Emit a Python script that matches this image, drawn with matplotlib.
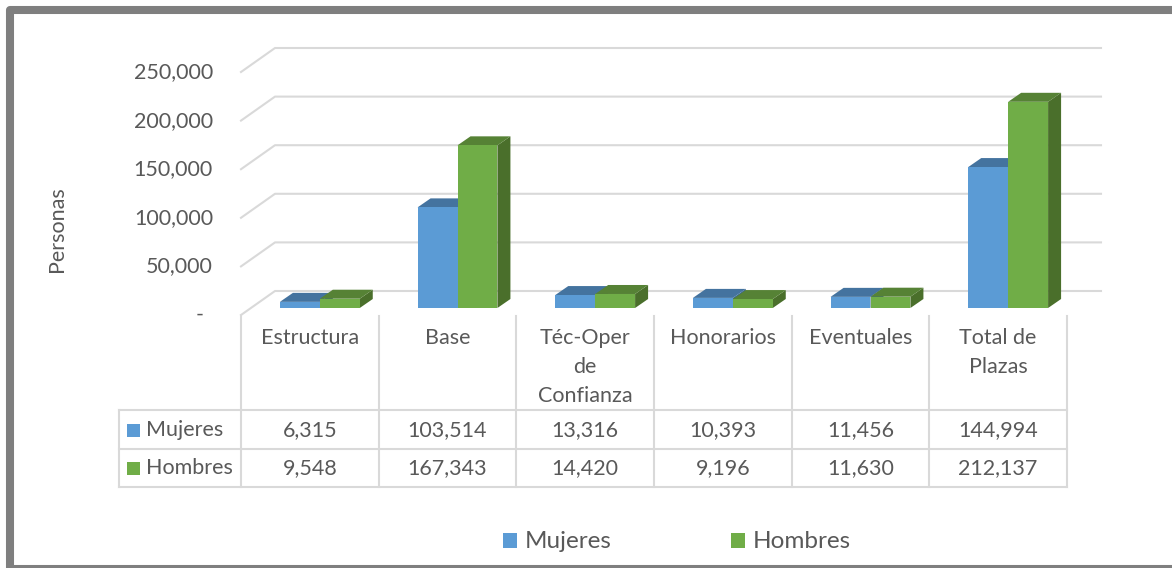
import numpy as np
import matplotlib
matplotlib.use("Agg")
import matplotlib.pyplot as plt
from matplotlib.patches import Polygon, Rectangle
from matplotlib.lines import Line2D
from matplotlib.transforms import IdentityTransform, offset_copy

# data
categorias = ["Estructura", "Base", "Téc-Oper\nde\nConfianza", "Honorarios", "Eventuales", "Total de\nPlazas"]
series = ["Mujeres", "Hombres"]
mujeres = [6315, 103514, 13316, 10393, 11456, 144994]
hombres = [9548, 167343, 14420, 9196, 11630, 212137]
yticks = [0, 50000, 100000, 150000, 200000, 250000]
ytick_labels = ["-", "50,000", "100,000", "150,000", "200,000", "250,000"]

W, H = 1172, 568
AZUL, AZUL_TOP, AZUL_SIDE = "#5B9BD5", "#44739F", "#3B6890"
VERDE, VERDE_TOP, VERDE_SIDE = "#70AD47", "#568235", "#4A6F2B"
TXT, GRID = "#595959", "#D9D9D9"
FONT = "Lato"
FS = 15.5
BACK = np.array([34, 24])     # back wall offset (px)
FRONT = np.array([10, 7])     # bar front face offset (px)
DEPTH = np.array([13, 9])     # bar depth (px)
BW = 0.29                     # bar width in category units

px = IdentityTransform()
def Y(y):  # image row -> display y
    return H - y

fig = plt.figure(figsize=(W / 100, H / 100), dpi=100)
ax = fig.add_axes([241 / W, (H - 315) / H, 826 / W, 243 / H])
ax.set_xlim(0, len(categorias))
ax.set_ylim(0, 250000)
ax.axis("off")
T = ax.transData

# back wall grid + left side wall diagonals
for v, lab in zip(yticks, ytick_labels):
    fx, fy = T.transform((0, v))
    rx, _ = T.transform((len(categorias), v))
    ax.add_line(Line2D([fx, fx + BACK[0], rx + BACK[0]], [fy, fy + BACK[1], fy + BACK[1]],
                       color=GRID, lw=1.5, transform=px, clip_on=False, zorder=0))
    if lab == "-":
        fig.text(200, fy, lab, ha="center", va="center", color=TXT, fontsize=FS,
                 family=FONT, transform=px)
    else:
        fig.text(213, fy, lab, ha="right", va="center", color=TXT, fontsize=FS,
                 family=FONT, transform=px)

fig.text(57, Y(229), "Personas", rotation=90, ha="center", va="center", color=TXT,
         fontsize=FS, family=FONT, transform=px)

# 3D-looking bars
front_tr = offset_copy(T, fig=fig, x=FRONT[0], y=FRONT[1], units="dots")
z = 2
for i in range(len(categorias)):
    for k, (vals, cf, ct, cs) in enumerate([(mujeres, AZUL, AZUL_TOP, AZUL_SIDE),
                                             (hombres, VERDE, VERDE_TOP, VERDE_SIDE)]):
        x0 = i + 0.5 - BW + k * BW
        x1 = x0 + BW
        v = vals[i]
        bl, br, tr, tl = T.transform([(x0, 0), (x1, 0), (x1, v), (x0, v)]) + FRONT
        ax.add_patch(Polygon([br, br + DEPTH, tr + DEPTH, tr], closed=True, fc=cs, ec="none",
                             transform=px, clip_on=False, zorder=z))
        ax.add_patch(Polygon([tl, tr, tr + DEPTH, tl + DEPTH], closed=True, fc=ct, ec="none",
                             transform=px, clip_on=False, zorder=z))
        ax.bar(x0, v, width=BW, align="edge", color=cf, transform=front_tr,
               clip_on=False, zorder=z + 1)
        z += 2
ax.set_xlim(0, len(categorias))
ax.set_ylim(0, 250000)

# data table
def hline(x0, x1, y):
    fig.add_artist(Line2D([x0, x1], [Y(y), Y(y)], color=GRID, lw=1.5, transform=px))

def vline(x, y0, y1):
    fig.add_artist(Line2D([x, x], [Y(y0), Y(y1)], color=GRID, lw=1.5, transform=px))

edges = [T.transform((i, 0))[0] for i in range(len(categorias) + 1)]
for x in edges:
    vline(x, 316, 487)
vline(119, 410, 487)
for y in (410, 449, 487):
    hline(119, edges[-1], y)

for i, cat in enumerate(categorias):
    cx = (edges[i] + edges[i + 1]) / 2
    for j, line in enumerate(cat.split("\n")):
        fig.text(cx, Y(338 + 29 * j), line, ha="center", va="center", color=TXT,
                 fontsize=FS, family=FONT, transform=px)
    for vals, ry in ((mujeres, 430), (hombres, 468)):
        fig.text(cx, Y(ry), f"{vals[i]:,}", ha="center", va="center", color=TXT,
                 fontsize=FS, family=FONT, transform=px)

for name, col, ry in ((series[0], AZUL, 430), (series[1], VERDE, 468)):
    fig.add_artist(Rectangle((127, Y(ry) - 6.5), 13, 13, fc=col, ec="none", transform=px))
    fig.text(146, Y(ry), name, ha="left", va="center", color=TXT, fontsize=FS,
             family=FONT, transform=px)

# legend
for name, col, x in ((series[0], AZUL, 503), (series[1], VERDE, 731)):
    fig.add_artist(Rectangle((x, Y(548)), 14, 15, fc=col, ec="none", transform=px))
    fig.text(x + 22, Y(541), name, ha="left", va="center", color=TXT, fontsize=17.5,
             family=FONT, transform=px)

# outer frame
fig.add_artist(Rectangle((10, -1), 1200, Y(10) + 1, fill=False, ec="#7F7F7F", lw=5.8,
                         joinstyle="round", transform=px))

fig.savefig("out.png", dpi=100)
